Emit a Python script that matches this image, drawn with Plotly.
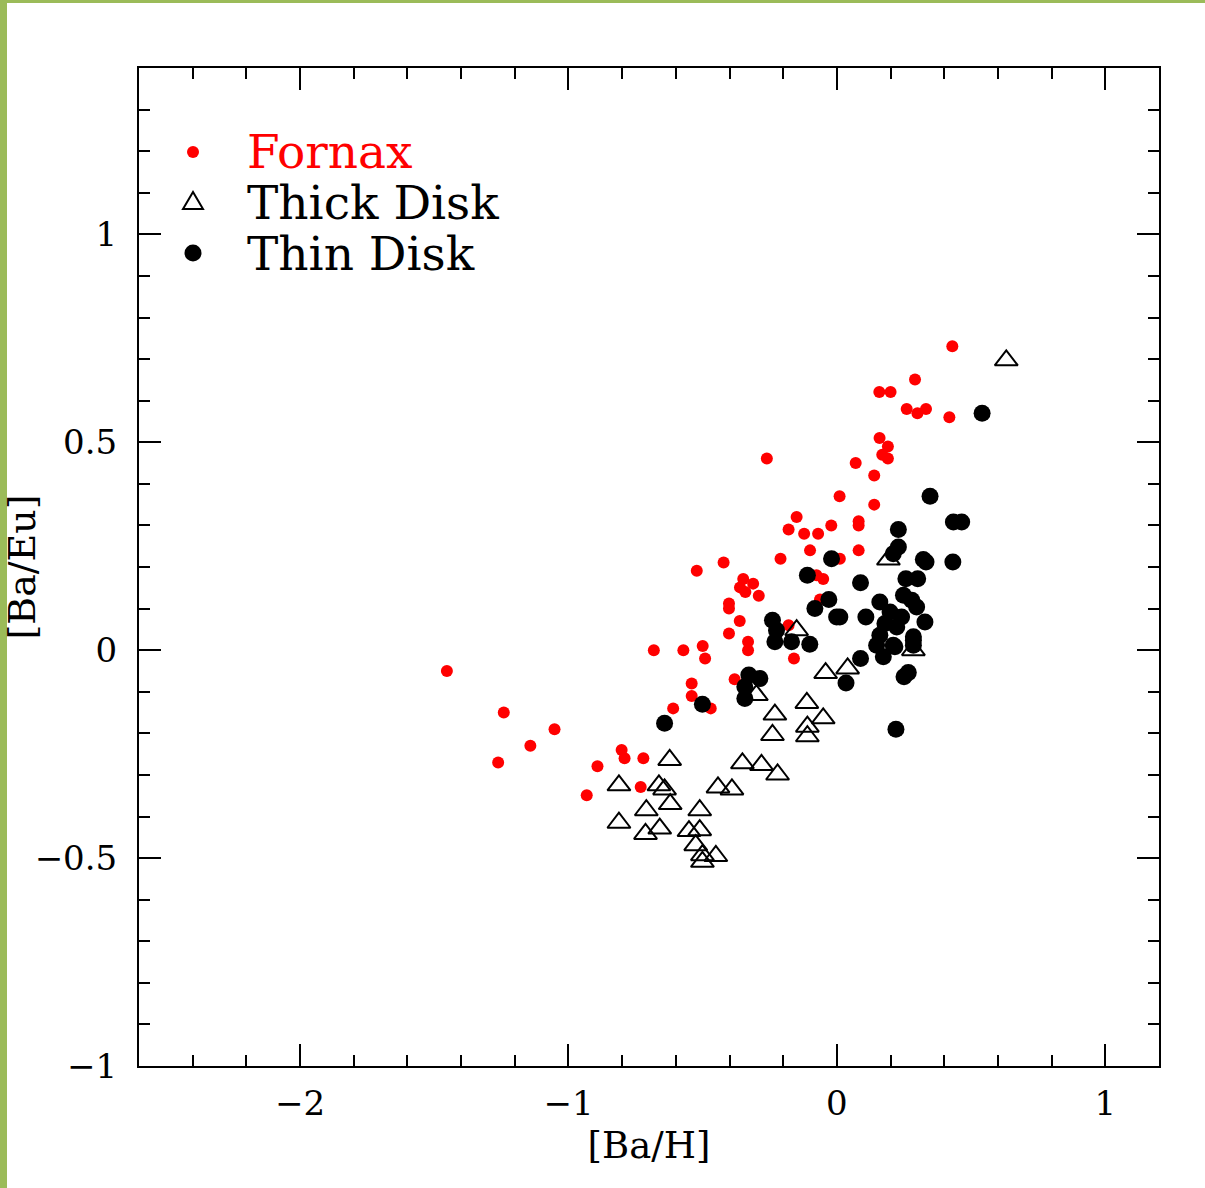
import plotly.graph_objects as go

# Fornax
fornax_x = [-1.453, -1.241, -1.052, -1.142, -1.262, -0.892, -0.932, -0.802, -0.791, -0.721,
            -0.731, -0.682, -0.572, -0.541, -0.541, -0.610, -0.500, -0.491, -0.470, -0.522,
            -0.422, -0.402, -0.402, -0.402, -0.361, -0.349, -0.341, -0.312, -0.291, -0.362,
            -0.331, -0.331, -0.381, -0.261, -0.210, -0.180, -0.150, -0.122, -0.070, -0.100,
            -0.180, -0.160, -0.076, -0.051, -0.063, -0.021, 0.010, 0.011, 0.070, 0.081,
            0.081, 0.081, 0.139, 0.139, 0.159, 0.169, 0.190, 0.190, 0.158, 0.200,
            0.260, 0.291, 0.300, 0.332, 0.419, 0.430]
fornax_y = [-0.050, -0.150, -0.190, -0.230, -0.270, -0.279, -0.349, -0.240, -0.260, -0.260,
            -0.329, 0.000, 0.000, -0.080, -0.110, -0.140, 0.010, -0.020, -0.140, 0.191,
            0.211, 0.112, 0.100, 0.040, 0.151, 0.171, 0.140, 0.160, 0.131, 0.070,
            0.020, 0.000, -0.070, 0.461, 0.220, 0.290, 0.320, 0.280, 0.280, 0.240,
            0.060, -0.020, 0.180, 0.171, 0.122, 0.300, 0.370, 0.220, 0.450, 0.310,
            0.300, 0.240, 0.420, 0.350, 0.510, 0.470, 0.490, 0.461, 0.621, 0.621,
            0.580, 0.651, 0.570, 0.580, 0.560, 0.731]

# Thick Disk
thick_x = [0.631, 0.192, 0.285, -0.150, -0.042, 0.040, -0.300, -0.231, -0.112, -0.051,
           -0.110, -0.110, -0.240, -0.352, -0.281, -0.221, -0.443, -0.391, -0.511, -0.551,
           -0.511, -0.526, -0.501, -0.451, -0.501, -0.623, -0.812, -0.663, -0.642, -0.621,
           -0.710, -0.812, -0.660, -0.713]
thick_y = [0.697, 0.218, 0.000, 0.048, -0.055, -0.044, -0.108, -0.155, -0.127, -0.164,
           -0.184, -0.207, -0.204, -0.272, -0.276, -0.299, -0.330, -0.335, -0.385, -0.435,
           -0.433, -0.469, -0.493, -0.495, -0.509, -0.264, -0.325, -0.325, -0.335, -0.370,
           -0.385, -0.415, -0.429, -0.442]

# Thin Disk
thin_x = [0.541, 0.347, 0.434, 0.465, 0.229, 0.229, 0.210, 0.322, 0.332, 0.432,
          0.088, 0.257, 0.301, 0.248, 0.160, 0.279, 0.297, 0.011, 0.108, 0.198,
          0.241, 0.328, 0.179, 0.223, 0.160, 0.285, 0.148, 0.210, 0.173, 0.216,
          0.285, 0.285, 0.088, 0.034, 0.250, 0.266, 0.220, -0.020, -0.110, -0.030,
          -0.082, -0.001, -0.240, -0.225, -0.231, -0.169, -0.101, -0.328, -0.287, -0.343,
          -0.343, -0.501, -0.642]
thin_y = [0.570, 0.370, 0.308, 0.308, 0.290, 0.248, 0.232, 0.218, 0.212, 0.212,
          0.162, 0.172, 0.172, 0.132, 0.116, 0.120, 0.104, 0.080, 0.080, 0.092,
          0.080, 0.068, 0.064, 0.056, 0.036, 0.032, 0.012, 0.012, -0.016, 0.008,
          0.024, 0.012, -0.020, -0.079, -0.064, -0.054, -0.190, 0.220, 0.180, 0.122,
          0.100, 0.080, 0.072, 0.048, 0.020, 0.020, 0.014, -0.060, -0.068, -0.088,
          -0.116, -0.130, -0.176]

series_names = ["Fornax", "Thick Disk", "Thin Disk"]

FONT = "DejaVu Serif"
RED = "#ff0000"
GREEN = "#9bbb59"
W, H = 1205, 1188
L, R, T, B = 139, 46, 68, 122
pw, ph = W - L - R, H - T - B


def pxx(p):
    return (p - L) / pw


def pxy(p):
    return (H - B - p) / ph


fig = go.Figure()
fig.add_trace(go.Scatter(x=fornax_x, y=fornax_y, mode="markers", name=series_names[0],
                         marker=dict(color=RED, size=12, line=dict(width=0))))
fig.add_trace(go.Scatter(x=thick_x, y=thick_y, mode="markers", name=series_names[1],
                         marker=dict(symbol="triangle-up-open", color="black", size=20,
                                     line=dict(width=2, color="black"))))
fig.add_trace(go.Scatter(x=thin_x, y=thin_y, mode="markers", name=series_names[2],
                         marker=dict(color="black", size=17, line=dict(width=0))))

axis_common = dict(
    showgrid=False, zeroline=False, showline=True, linecolor="black", linewidth=2,
    mirror="allticks", ticks="inside", tickwidth=2, ticklen=22, tickcolor="black",
    tickfont=dict(family=FONT, size=34, color="black"), automargin=False,
)

fig.update_xaxes(range=[-2.6, 1.2], tick0=0, dtick=1,
                 minor=dict(dtick=0.2, ticks="inside", ticklen=11, tickwidth=2, tickcolor="black"),
                 title=dict(text="[Ba/H]", font=dict(family=FONT, size=37, color="black"), standoff=10),
                 ticklabelstandoff=6,
                 **axis_common)
fig.update_yaxes(range=[-1, 1.4], tick0=0, dtick=0.5,
                 minor=dict(dtick=0.1, ticks="inside", ticklen=11, tickwidth=2, tickcolor="black"),
                 title=dict(text="[Ba/Eu]", font=dict(family=FONT, size=38, color="black"), standoff=2),
                 ticklabelstandoff=13,
                 **axis_common)

# legend (symbols + labels) placed at the reference position
leg_x_sym = 193
leg_x_txt = 245
leg_rows = [152, 203, 253]
leg_colors = [RED, "black", "black"]

fig.add_shape(type="circle", xref="paper", yref="paper", xsizemode="pixel", ysizemode="pixel",
              xanchor=pxx(leg_x_sym), yanchor=pxy(leg_rows[0]), x0=-6, x1=6, y0=-6, y1=6,
              fillcolor=RED, line=dict(width=0), layer="above")
fig.add_shape(type="path", xref="paper", yref="paper", xsizemode="pixel", ysizemode="pixel",
              xanchor=pxx(leg_x_sym), yanchor=pxy(leg_rows[1]),
              path="M -10,-6 L 10,-6 L 0,11 Z",
              fillcolor="rgba(0,0,0,0)", line=dict(width=2, color="black"), layer="above")
fig.add_shape(type="circle", xref="paper", yref="paper", xsizemode="pixel", ysizemode="pixel",
              xanchor=pxx(leg_x_sym), yanchor=pxy(leg_rows[2]), x0=-8.5, x1=8.5, y0=-8.5, y1=8.5,
              fillcolor="black", line=dict(width=0), layer="above")
for name, row, col in zip(series_names, leg_rows, leg_colors):
    fig.add_annotation(xref="paper", yref="paper", x=pxx(leg_x_txt), y=pxy(row),
                       xanchor="left", yanchor="middle", showarrow=False, text=name,
                       font=dict(family=FONT, size=47, color=col))

# green frame of the original figure
fig.add_shape(type="rect", xref="paper", yref="paper",
              x0=pxx(0), x1=pxx(7), y0=pxy(H), y1=pxy(0),
              fillcolor=GREEN, line=dict(width=0), layer="above")
fig.add_shape(type="rect", xref="paper", yref="paper",
              x0=pxx(0), x1=pxx(W), y0=pxy(3), y1=pxy(0),
              fillcolor=GREEN, line=dict(width=0), layer="above")

fig.update_layout(
    width=W, height=H,
    margin=dict(l=L, r=R, t=T, b=B, pad=0, autoexpand=False),
    paper_bgcolor="white", plot_bgcolor="white",
    font=dict(family=FONT, color="black"),
    showlegend=False,
)

fig.write_html("out.html")
